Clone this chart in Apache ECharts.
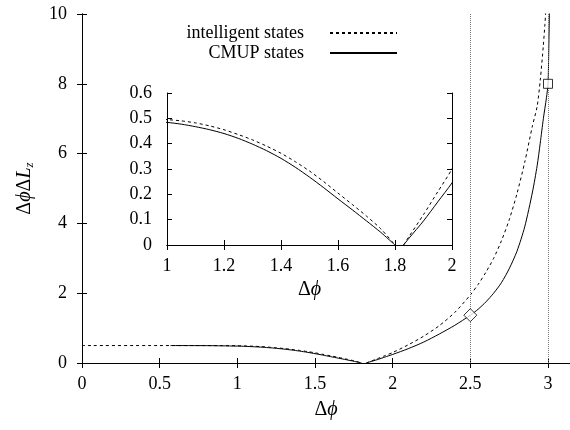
<!DOCTYPE html>
<html>
<head>
<meta charset="utf-8">
<script src="https://cdn.jsdelivr.net/npm/echarts@6/dist/echarts.min.js"></script>
<style>
  html, body { margin: 0; padding: 0; background: #ffffff; }
  #chart { width: 570px; height: 430px; }
</style>
</head>
<body>
<div id="chart"></div>
<script>
// intelligent states (dashed); null marks the break near the minimum
const intelPhi = [0, 0.5, 0.8, 0.9,
  1.0, 1.05, 1.1, 1.15, 1.2, 1.25, 1.3, 1.35, 1.4, 1.45, 1.5, 1.55, 1.6, 1.65, 1.7, 1.75, 1.8,
  1.815,
  1.83, 1.85, 1.9, 1.95, 2.0, 2.1, 2.2, 2.3, 2.4, 2.5, 2.55, 2.6, 2.65, 2.7, 2.75, 2.8, 2.85, 2.9, 2.93, 2.95, 2.97, 2.98, 2.99];
const intelVal = [0.5, 0.5, 0.5, 0.498,
  0.495, 0.49, 0.482, 0.47, 0.455, 0.436, 0.415, 0.39, 0.362, 0.329, 0.292, 0.25, 0.205, 0.16, 0.114, 0.064, 0,
  null,
  0, 0.035, 0.12, 0.21, 0.3, 0.52, 0.77, 1.07, 1.45, 1.95, 2.25, 2.6, 3.0, 3.5, 4.1, 4.85, 5.75, 6.8, 7.35, 8.1, 9.1, 9.7, 10.4];

// CMUP states (solid)
const cmupPhi = [0.57, 0.7, 0.8, 0.9,
  1.0, 1.05, 1.1, 1.15, 1.2, 1.25, 1.3, 1.35, 1.4, 1.45, 1.5, 1.55, 1.6, 1.65, 1.7, 1.75, 1.8,
  1.815,
  1.83, 1.85, 1.9, 1.95, 2.0, 2.1, 2.2, 2.3, 2.4, 2.5, 2.55, 2.6, 2.65, 2.7, 2.75, 2.8, 2.85, 2.9, 2.93, 2.95, 2.97, 2.99, 3.0, 3.005, 3.01];
const cmupVal = [0.5, 0.499, 0.497, 0.492,
  0.484, 0.477, 0.467, 0.455, 0.44, 0.421, 0.398, 0.372, 0.342, 0.307, 0.268, 0.226, 0.182, 0.139, 0.095, 0.05, 0,
  null,
  0, 0.028, 0.095, 0.17, 0.245, 0.41, 0.6, 0.83, 1.08, 1.37, 1.54, 1.75, 2.0, 2.3, 2.7, 3.2, 3.9, 4.9, 5.65, 6.3, 7.0, 7.6, 8.0, 9.0, 10.4];

// highlighted points on the CMUP curve and vertical reference lines
const markPhi = [2.5, 3.0];
const markVal = [1.37, 8.0];
const markSymbols = ["diamond", "rect"];
const refLines = [2.5, 3.0];

const names = ["intelligent states", "CMUP states"];

const font = "Liberation Serif";
const fs = 18;

const intelData = intelPhi.map((x, i) => [x, intelVal[i] === null ? "-" : intelVal[i]]);
const cmupData = cmupPhi.map((x, i) => [x, cmupVal[i] === null ? "-" : cmupVal[i]]);

const dashed = { color: "#000", width: 1, type: [3, 3] };
const solid = { color: "#000", width: 1, type: "solid" };

const axisBase = {
  type: "value",
  axisLine: { show: true, lineStyle: { color: "#000", width: 1 } },
  axisTick: { show: true, inside: true, length: 5, lineStyle: { color: "#000" } },
  splitLine: { show: false },
  axisLabel: { color: "#000", fontFamily: font, fontSize: fs },
};
const mirror = (o) => Object.assign({}, axisBase, o, { axisLabel: { show: false }, name: "" });

const phiName = "{d|Δ}{i|ϕ}";
const nameRich = {
  d: { fontFamily: font, fontSize: 20, color: "#000" },
  i: { fontFamily: font, fontSize: 20, fontStyle: "italic", color: "#000" },
  s: { fontFamily: font, fontSize: 13, fontStyle: "italic", color: "#000", padding: [10, 0, 0, 0] },
};

const lineSeries = (name, data, style, xi, yi) => ({
  name: name, type: "line", xAxisIndex: xi, yAxisIndex: yi,
  data: data, symbol: "none", showSymbol: false, lineStyle: style, itemStyle: { color: "#000" },
  smooth: 0.25, connectNulls: false, clip: true, z: 3,
});

const chart = echarts.init(document.getElementById("chart"));
chart.setOption({
  animation: false,
  backgroundColor: "#ffffff",
  grid: [
    { left: 82, top: 14, width: 495, height: 349 },
    { left: 167, top: 93, width: 285, height: 152 },
  ],
  legend: {
    data: names,
    orient: "vertical",
    align: "right",
    right: 172,
    top: 24,
    padding: 0,
    itemGap: 2,
    itemWidth: 67,
    itemHeight: 12,
    selectedMode: false,
    itemStyle: { opacity: 0 },
    textStyle: { fontFamily: font, fontSize: fs, color: "#000", padding: [0, 21, 0, 0] },
  },
  xAxis: [
    Object.assign({}, axisBase, {
      gridIndex: 0, min: 0, max: Math.PI, interval: 0.5,
      axisLabel: Object.assign({}, axisBase.axisLabel, { margin: 12, showMaxLabel: false }),
      name: phiName, nameLocation: "middle", nameGap: 37,
      nameTextStyle: { rich: nameRich },
    }),
    mirror({ gridIndex: 0, min: 0, max: Math.PI, interval: 0.5, position: "top" }),
    Object.assign({}, axisBase, {
      gridIndex: 1, min: 1, max: 2, interval: 0.2,
      axisLabel: Object.assign({}, axisBase.axisLabel, { margin: 12 }),
      name: phiName, nameLocation: "middle", nameGap: 35,
      nameTextStyle: { rich: nameRich },
    }),
    mirror({ gridIndex: 1, min: 1, max: 2, interval: 0.2, position: "top" }),
  ],
  yAxis: [
    Object.assign({}, axisBase, {
      gridIndex: 0, min: 0, max: 10, interval: 2,
      axisLabel: Object.assign({}, axisBase.axisLabel, { margin: 15 }),
      name: "{d|Δ}{i|ϕ}{d|Δ}{i|L}{s|z}", nameLocation: "middle", nameGap: 46,
      nameTextStyle: { rich: nameRich },
    }),
    mirror({ gridIndex: 0, min: 0, max: 10, interval: 2, position: "right" }),
    Object.assign({}, axisBase, {
      gridIndex: 1, min: 0, max: 0.6, interval: 0.1,
      axisLabel: Object.assign({}, axisBase.axisLabel, { margin: 15 }),
    }),
    mirror({ gridIndex: 1, min: 0, max: 0.6, interval: 0.1, position: "right" }),
  ],
  series: [
    lineSeries(names[0], intelData, dashed, 0, 0),
    Object.assign(lineSeries(names[1], cmupData, solid, 0, 0), {
      markLine: {
        silent: true, symbol: ["none", "none"], label: { show: false },
        lineStyle: { color: "#777", width: 1, type: [1, 1] },
        emphasis: { disabled: true },
        data: refLines.map((v) => ({ xAxis: v })),
      },
    }),
    {
      name: "points", type: "scatter", xAxisIndex: 0, yAxisIndex: 0, z: 5,
      data: markPhi.map((x, i) => ({
        value: [x, markVal[i]],
        symbol: markSymbols[i],
        symbolSize: markSymbols[i] === "diamond" ? [13, 13] : [9, 9],
      })),
      itemStyle: { color: "#fff", borderColor: "#000", borderWidth: 1 },
    },
    lineSeries("intelligent inset", intelData, dashed, 2, 2),
    lineSeries("CMUP inset", cmupData, solid, 2, 2),
  ],
});
</script>
</body>
</html>
